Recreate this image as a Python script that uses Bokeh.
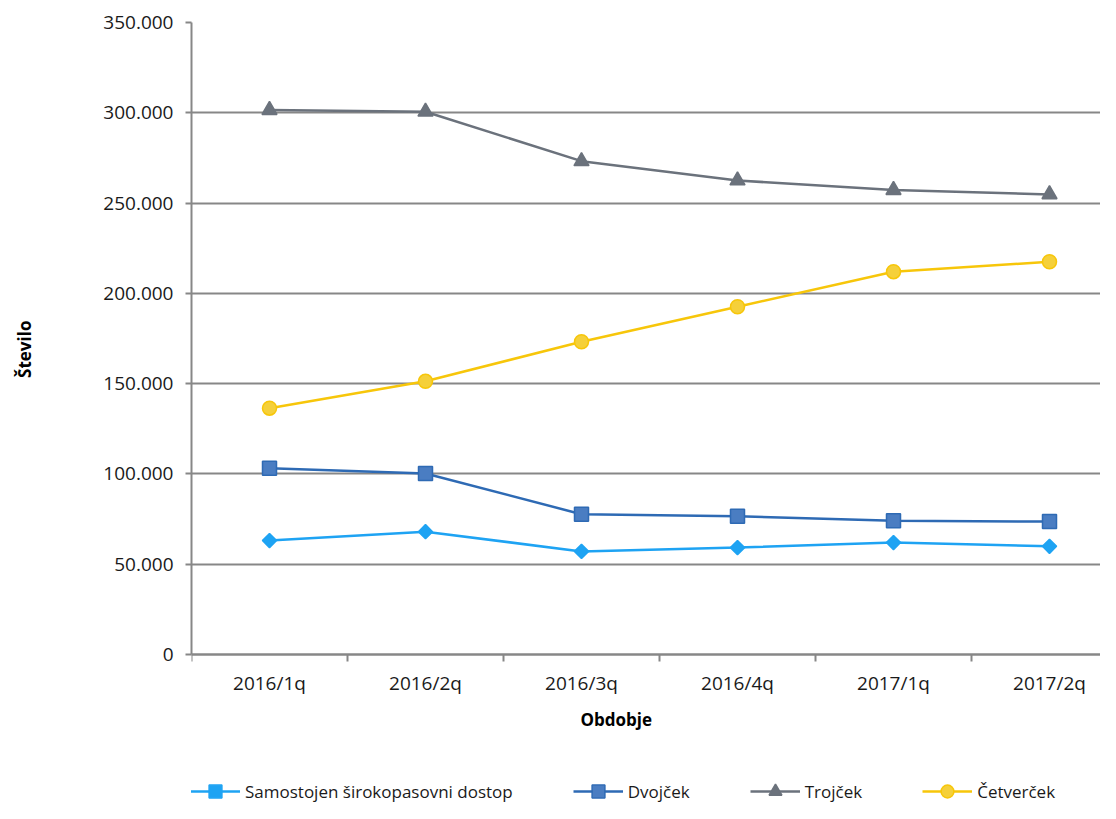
from bokeh.plotting import figure
from bokeh.models import (Range1d, FixedTicker, CustomJSTickFormatter, Legend,
                          LegendItem, LinearAxis)
from bokeh.embed import file_html
from bokeh.resources import INLINE
import math

# ---- data ----
periods = ["2016/1q", "2016/2q", "2016/3q", "2016/4q", "2017/1q", "2017/2q"]
samostojen = [63100, 68000, 57100, 59200, 62000, 59900]
dvojcek = [103200, 100200, 77700, 76500, 74100, 73600]
trojcek = [301500, 300600, 273200, 262500, 257200, 254800]
cetvercek = [136400, 151300, 173200, 192600, 212000, 217500]
y_ticks = [0, 50000, 100000, 150000, 200000, 250000, 300000, 350000]
y_title = "Število"
x_title = "Obdobje"

FONT = "Open Sans"
GRID = "#878787"
EN_SPACE = "\u2002"

# ---- layout constants (pixels) ----
W, H = 1100, 803
TOP, LEFT = 22, 191
PLOT_H = 632           # pixel height of the 0..350000 value span
CAT_W = 156            # pixel width of one category
Y_MAX = y_ticks[-1]
extra_px = H - TOP - PLOT_H        # space below the value 0 (axis + legend)
y_lo = -Y_MAX * extra_px / PLOT_H
x_hi = (W - LEFT) / CAT_W

x = [i + 0.5 for i in range(len(periods))]

p = figure(width=W, height=H,
           x_range=Range1d(0, x_hi), y_range=Range1d(y_lo, Y_MAX),
           output_backend="svg", toolbar_location=None,
           x_axis_location=None,
           min_border_left=LEFT, min_border_right=0,
           min_border_top=TOP, min_border_bottom=0)
p.outline_line_color = None
p.background_fill_color = "white"
p.border_fill_color = "white"

p.xgrid.visible = False
p.ygrid.grid_line_color = GRID
p.ygrid.grid_line_width = 2
p.ygrid.ticker = FixedTicker(ticks=y_ticks)

# y axis
yax = p.yaxis[0]
yax.bounds = (0, Y_MAX)
yax.ticker = FixedTicker(ticks=y_ticks)
yax.formatter = CustomJSTickFormatter(
    code="return tick == 0 ? '0' : (tick/1000).toFixed(0) + '.000';")
yax.axis_line_color = GRID
yax.axis_line_width = 2
yax.major_tick_line_color = GRID
yax.major_tick_line_width = 2
yax.major_tick_out = 6
yax.major_tick_in = 0
yax.minor_tick_out = 0
yax.minor_tick_in = 0
yax.major_label_standoff = 12
yax.major_label_text_font = FONT
yax.major_label_text_font_size = "19px"
yax.major_label_text_color = "#1a1a1a"
# leading en-spaces lift the title toward the middle of the value span
yax.axis_label = EN_SPACE * 15 + y_title
yax.axis_label_text_font = FONT
yax.axis_label_text_font_size = "17px"
yax.axis_label_text_font_style = "bold"
yax.axis_label_text_color = "#000000"
yax.axis_label_standoff = 64

# x axis, fixed at value 0
xax = LinearAxis(fixed_location=0)
xax.ticker = FixedTicker(ticks=x, minor_ticks=list(range(len(periods))))
xax.formatter = CustomJSTickFormatter(args=dict(cats=periods),
                                      code="return cats[Math.floor(tick)] || '';")
xax.axis_line_color = GRID
xax.axis_line_width = 2
xax.major_tick_out = 0
xax.major_tick_in = 0
xax.minor_tick_out = 7
xax.minor_tick_in = 0
xax.minor_tick_line_color = GRID
xax.minor_tick_line_width = 2
xax.major_label_standoff = 8
xax.major_label_text_font = FONT
xax.major_label_text_font_size = "19px"
xax.major_label_text_color = "#1a1a1a"
xax.axis_label = x_title + EN_SPACE * 7
xax.axis_label_text_font = FONT
xax.axis_label_text_font_size = "17px"
xax.axis_label_text_font_style = "bold"
xax.axis_label_text_color = "#000000"
xax.axis_label_standoff = 9
p.add_layout(xax, "below")

series = [
    ("Samostojen širokopasovni dostop", samostojen, "#1EA3F3", "#1EA3F3", "#1EA3F3", "square", 10, math.pi / 4),
    ("Dvojček", dvojcek, "#2E6AB4", "#4A7DC2", "#2E6AB4", "square", 14, 0),
    ("Trojček", trojcek, "#6B727C", "#6B727C", "#6B727C", "triangle", 15, 0),
    ("Četverček", cetvercek, "#F7C60A", "#F5D03A", "#F7C60A", "circle", 14, 0),
]

items = []
for name, vals, lc, fc, ec, marker, size, ang in series:
    r1 = p.line(x, vals, line_color=lc, line_width=2.5)
    r2 = p.scatter(x, vals, marker=marker, size=size, angle=ang,
                   fill_color=fc, line_color=ec, line_width=1.5)
    items.append(LegendItem(label=name, renderers=[r1, r2]))

lg = Legend(items=items, location=(-1, -4), orientation="horizontal",
            glyph_width=50, glyph_height=32, label_height=32,
            label_standoff=5, padding=0, margin=0, spacing=60,
            border_line_color=None, background_fill_alpha=0,
            label_text_font=FONT, label_text_font_size="17px",
            label_text_color="#1a1a1a")
p.add_layout(lg, "center")

open("out.html", "w").write(file_html(p, INLINE))
